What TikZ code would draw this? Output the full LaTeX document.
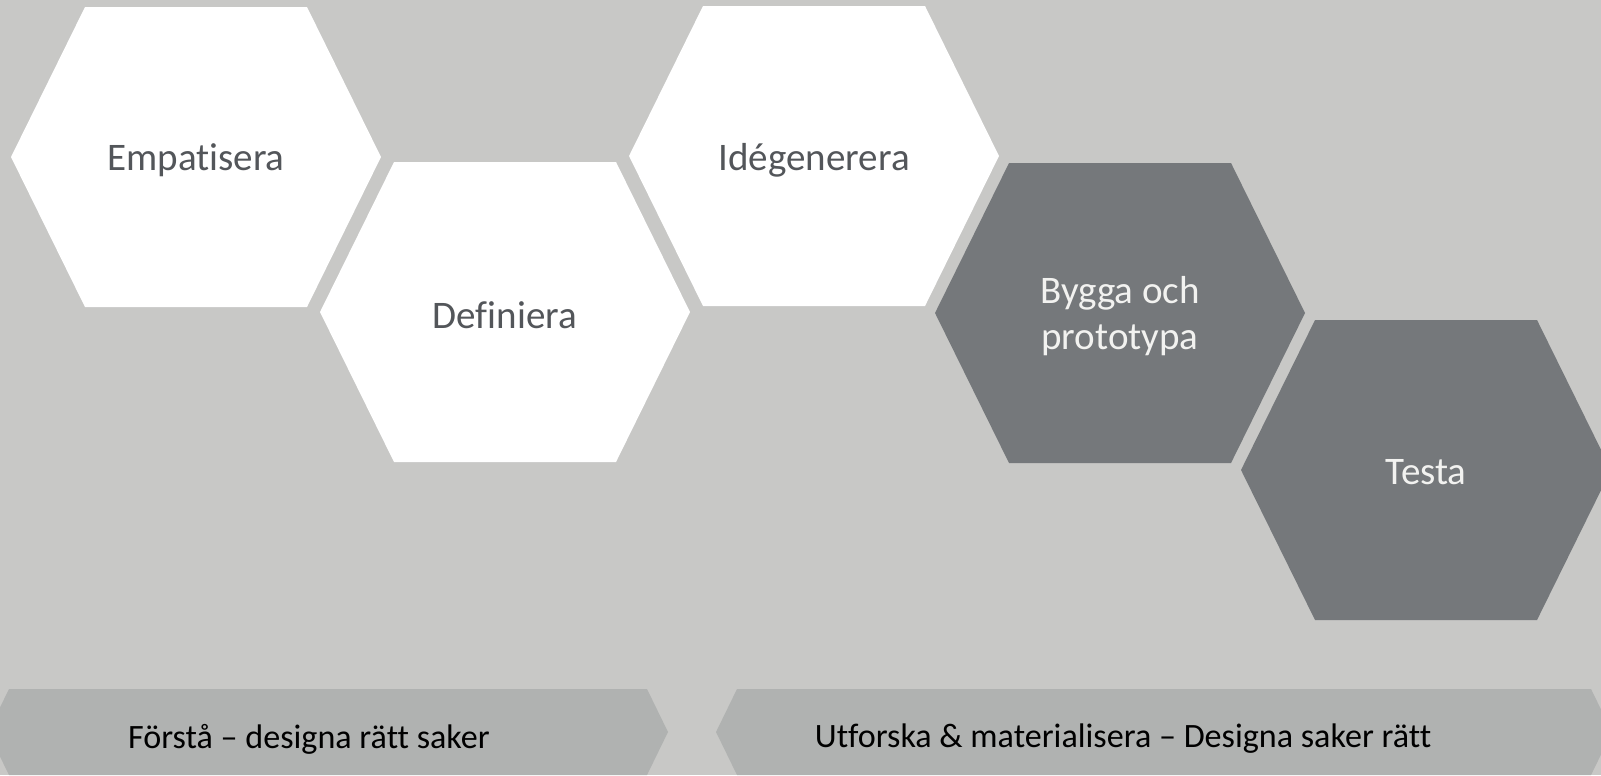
\documentclass[tikz,border=0pt]{standalone}
\usepackage{fontspec}
\setmainfont{Carlito}[Ligatures={NoCommon}]
\usetikzlibrary{positioning}
\definecolor{canvas}{HTML}{C8C8C6}
\definecolor{slate}{HTML}{75787B}
\definecolor{band}{HTML}{B0B2B1}
\definecolor{ink}{HTML}{53565A}
\definecolor{paper}{HTML}{F2F2F0}

\begin{document}
\begin{tikzpicture}[x=0.01cm, y=-0.01cm,
  hexlabel/.style={font=\fontsize{11.1}{13.1}\selectfont, text=#1, align=center},
  bandlabel/.style={font=\fontsize{9.7}{11}\selectfont, text=black}
]

% Background
\useasboundingbox (0,0) rectangle (1601,775);
\clip (0,0) rectangle (1601,775);
\fill[canvas] (0,0) rectangle (1601,775);

% Phase hexagons (left corner, then round the outline)
\fill[white] (11,157)   -- ++(74,-150) -- ++(222,0) -- ++(74,150) -- ++(-74,150) -- ++(-222,0) -- cycle;
\fill[white] (320,312)  -- ++(74,-150) -- ++(222,0) -- ++(74,150) -- ++(-74,150) -- ++(-222,0) -- cycle;
\fill[white] (629,156)  -- ++(74,-150) -- ++(222,0) -- ++(74,150) -- ++(-74,150) -- ++(-222,0) -- cycle;
\fill[slate] (935,313)  -- ++(74,-150) -- ++(222,0) -- ++(74,150) -- ++(-74,150) -- ++(-222,0) -- cycle;
\fill[slate] (1241,470) -- ++(74,-150) -- ++(222,0) -- ++(74,150) -- ++(-74,150) -- ++(-222,0) -- cycle;

% Phase names
\node[hexlabel=ink] (empatisera) at (196,160) {Empatisera};
\node[hexlabel=ink] (definiera) at (505,315) {Definiera};
\node[hexlabel=ink] (idegenerera) at (814,160) {Idégenerera};
\node[hexlabel=paper] (bygga) at (1120,316) {Bygga och\\prototypa};
\node[hexlabel=paper] (testa) at (1426,472) {Testa};

% Bottom bands
\fill[band] (9,689) -- (647,689) -- (668,732) -- (647,775) -- (9,775) -- (-12,732) -- cycle;
\fill[band] (737,689) -- (1591,689) -- (1612,732) -- (1591,775) -- (737,775) -- (716,732) -- cycle;

\node[bandlabel] (forsta) at (309,739) {Förstå – designa rätt saker};
\node[bandlabel] (utforska) at (1123,739) {Utforska \& materialisera – Designa saker rätt};

\end{tikzpicture}
\end{document}
